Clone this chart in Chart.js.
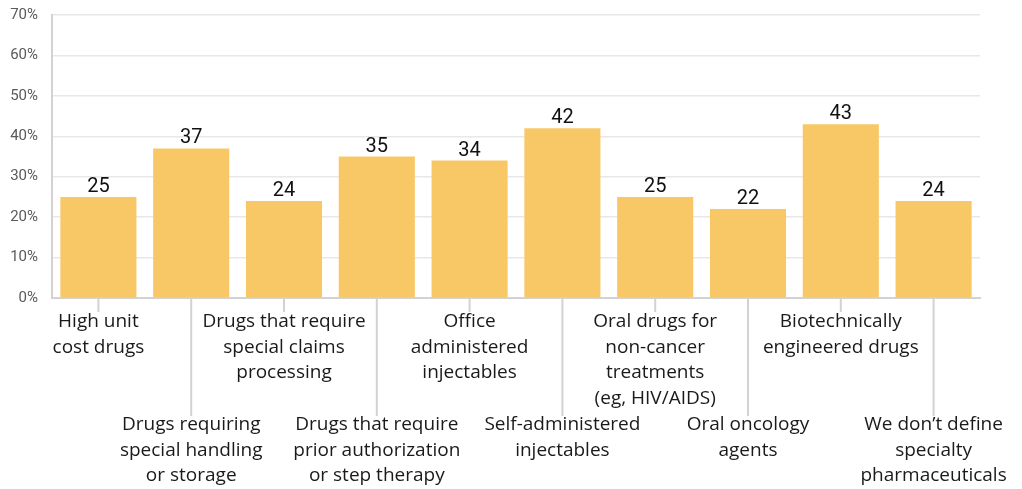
<!DOCTYPE html>
<html lang="en">
<head>
  <meta charset="UTF-8" />
  <title>Specialty drug definitions</title>
  <script src="https://cdn.jsdelivr.net/npm/chart.js"></script>
  <style>
    html, body { margin: 0; padding: 0; background: #fff; }
    #wrap { width: 1022px; height: 489px; }
  </style>
</head>
<body>
  <div id="wrap"><canvas id="chart" width="1022" height="489"></canvas></div>

  <script>
    // categories, one per bar; each entry is the list of label lines
    const categories = [
      ['High unit', 'cost drugs'],
      ['Drugs requiring', 'special handling', 'or storage'],
      ['Drugs that require', 'special claims', 'processing'],
      ['Drugs that require', 'prior authorization', 'or step therapy'],
      ['Office', 'administered', 'injectables'],
      ['Self-administered', 'injectables'],
      ['Oral drugs for', 'non-cancer', 'treatments', '(eg, HIV/AIDS)'],
      ['Oral oncology', 'agents'],
      ['Biotechnically', 'engineered drugs'],
      ['We don\u2019t define', 'specialty', 'pharmaceuticals']
    ];
    const percentages = [25, 37, 24, 35, 34, 42, 25, 22, 43, 24];
    const yTicks = [0, 10, 20, 30, 40, 50, 60, 70];

    const BAR = '#f9c866';
    const AXIS = '#d2d2d2';

    // value above each bar, staggered labels with leader lines below the axis
    const labelPlugin = {
      id: 'labels',
      afterDatasetsDraw(chart) {
        const ctx = chart.ctx;
        const meta = chart.getDatasetMeta(0);
        const x = chart.scales.x;
        const bottom = chart.chartArea.bottom;
        ctx.save();

        ctx.font = '20px Roboto';
        ctx.fillStyle = '#111';
        ctx.textAlign = 'center';
        ctx.textBaseline = 'alphabetic';
        meta.data.forEach((bar, i) => {
          ctx.fillText(String(percentages[i]), bar.x, bar.y - 5);
        });

        ctx.font = '19px "Open Sans"';
        ctx.fillStyle = '#1a1a1a';
        ctx.textBaseline = 'middle';
        categories.forEach((lines, i) => {
          const cx = x.getPixelForValue(i);
          const low = i % 2 === 1;
          const lineEnd = low ? 416 : 312;
          const firstY = low ? 425 : 322;

          ctx.strokeStyle = AXIS;
          ctx.lineWidth = 2;
          ctx.beginPath();
          ctx.moveTo(cx, bottom);
          ctx.lineTo(cx, lineEnd);
          ctx.stroke();

          let tx = cx;
          const w = Math.max(...lines.map(l => ctx.measureText(l).width));
          if (tx + w / 2 > chart.width - 14) tx = chart.width - 14 - w / 2;
          lines.forEach((line, j) => {
            ctx.fillText(line, tx, firstY + j * 25.5);
          });
        });
        ctx.restore();
      }
    };

    new Chart(document.getElementById('chart').getContext('2d'), {
      type: 'bar',
      data: {
        labels: categories.map(c => c.join(' ')),
        datasets: [{
          data: percentages,
          backgroundColor: BAR,
          borderWidth: 0,
          categoryPercentage: 1,
          barPercentage: 0.82
        }]
      },
      options: {
        responsive: false,
        animation: false,
        layout: { padding: { top: 15, right: 42, left: 0, bottom: 0 } },
        plugins: { legend: { display: false }, tooltip: { enabled: false } },
        scales: {
          x: {
            ticks: { display: false },
            grid: { display: false, drawTicks: false },
            border: { display: true, color: AXIS, width: 2 },
            afterFit(scale) { scale.height = 191; }
          },
          y: {
            min: 0,
            max: 70,
            afterBuildTicks(scale) { scale.ticks = yTicks.map(v => ({ value: v })); },
            ticks: {
              callback: v => v + '%',
              color: '#5a5a5a',
              font: { family: 'Roboto', size: 15 },
              padding: 14
            },
            grid: { color: '#e8e8e8', lineWidth: 1.5, drawTicks: false },
            border: { display: true, color: AXIS, width: 2 },
            afterFit(scale) {
              scale.width = 52;
              scale.paddingTop = 0;
              scale.paddingBottom = 0;
            }
          }
        }
      },
      plugins: [labelPlugin]
    });
  </script>
</body>
</html>
